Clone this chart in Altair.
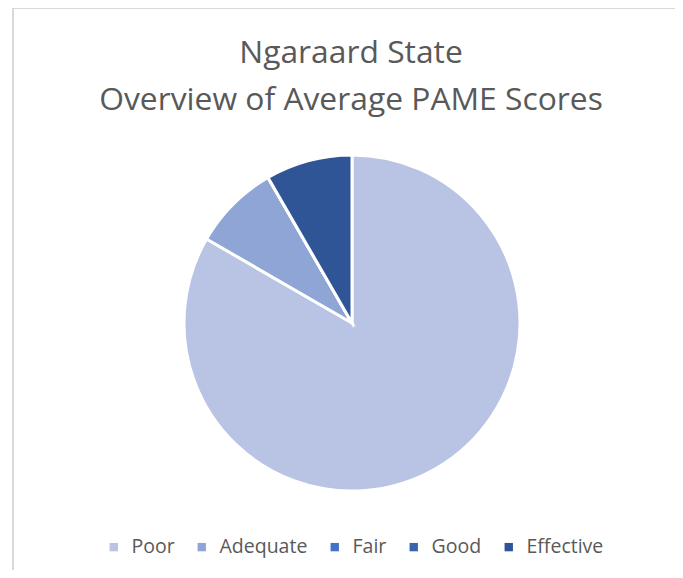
import altair as alt
import pandas as pd

categories = ["Poor", "Adequate", "Fair", "Good", "Effective"]
values = [10, 1, 0, 0, 1]
colors = ["#B9C3E3", "#8FA5D6", "#4472C4", "#3A64AE", "#2F5597"]
title_lines = ["Ngaraard State", "Overview of Average PAME Scores"]

df = pd.DataFrame({"category": categories, "value": values, "order": list(range(len(categories)))})
title_df = pd.DataFrame({"line": title_lines, "row": [0, 1]})

W, H = 667, 562

pie = alt.Chart(df).mark_arc(stroke="white", strokeWidth=3, radius=168).encode(
    theta=alt.Theta("value:Q", stack=True),
    order=alt.Order("order:Q"),
    color=alt.Color(
        "category:N",
        scale=alt.Scale(domain=categories, range=colors),
        sort=categories,
        legend=alt.Legend(
            title=None,
            orient="none",
            direction="horizontal",
            legendX=96,
            legendY=529,
            symbolType="square",
            symbolSize=70,
            symbolStrokeWidth=0,
            labelFontSize=19.5,
            labelFont="Open Sans",
            labelColor="#595959",
            labelOffset=8,
            columnPadding=17,
        ),
    ),
    x=alt.value(344),
    y=alt.value(315),
)

titles = alt.Chart(title_df).mark_text(
    font="Open Sans", fontSize=31.8, color="#595959", align="center", baseline="alphabetic"
).encode(
    text="line:N",
    x=alt.value(343),
    y=alt.Y("row:Q", scale=alt.Scale(domain=[0, 1], range=[55, 102]), axis=None),
)

frame_top = alt.Chart(df).mark_rule(color="#D9D9D9", strokeWidth=1.5).encode(
    x=alt.value(5), x2=alt.value(W), y=alt.value(0)
)
frame_left = alt.Chart(df).mark_rule(color="#D9D9D9", strokeWidth=1.5).encode(
    x=alt.value(5), y=alt.value(0), y2=alt.value(H)
)

chart = alt.layer(frame_top, frame_left, pie, titles).properties(
    width=W, height=H, padding=0, autosize=alt.AutoSizeParams(type="none"),
    background="white",
).configure_view(stroke=None)

chart.save("out.html", embed_options={"renderer": "svg", "actions": False})
